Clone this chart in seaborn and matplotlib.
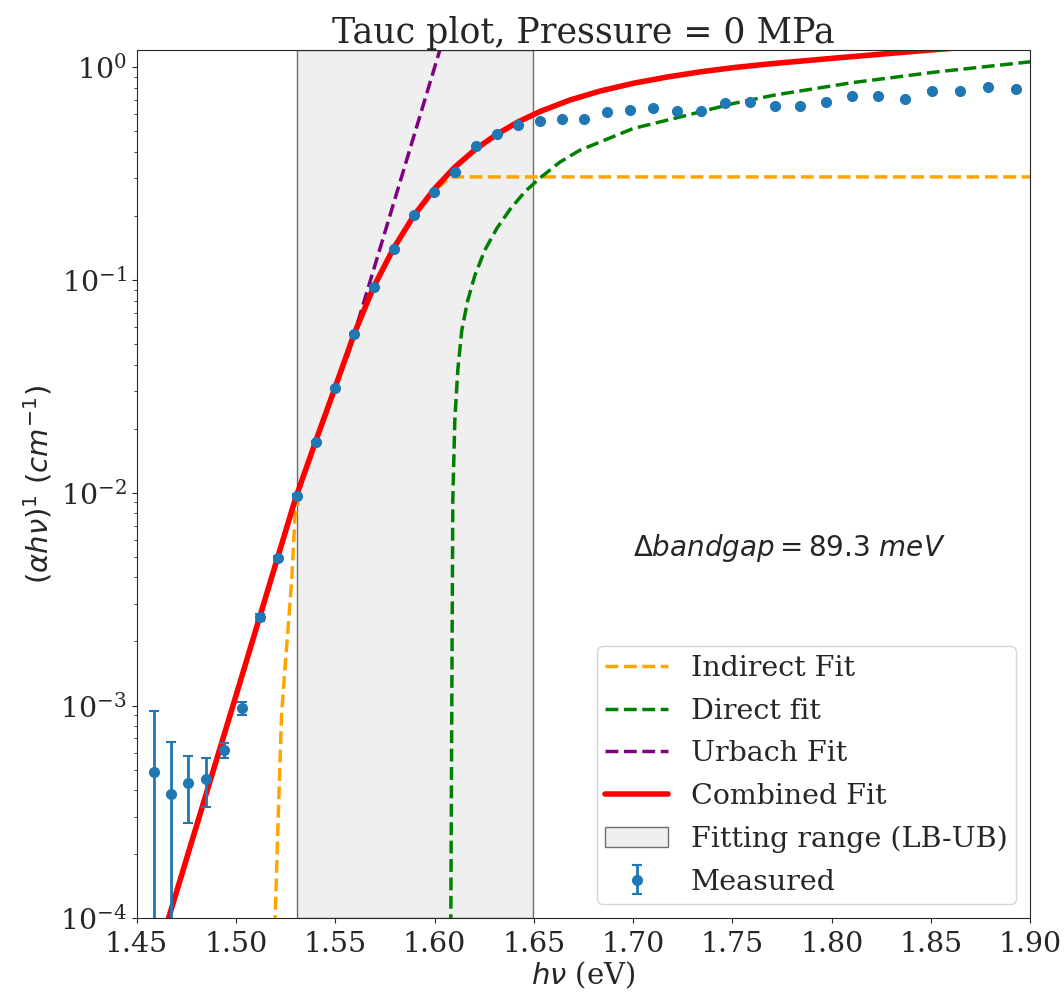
import matplotlib
matplotlib.use("Agg")
import matplotlib.pyplot as plt
import seaborn as sns
import pandas as pd


# Plain white axes with outward ticks, serif text like the original figure
sns.set_style("ticks")
plt.rcParams["font.family"] = ["DejaVu Serif"]
plt.rcParams["mathtext.fontset"] = "dejavusans"


# Measured points (photon energy in eV, absorption value, error)
meas_e = [1.4586, 1.4673, 1.4760, 1.4848, 1.4938, 1.5029, 1.5120, 1.5213,
          1.5307, 1.5402, 1.5498, 1.5596, 1.5694, 1.5794, 1.5895, 1.5998,
          1.6102, 1.6207, 1.6314, 1.6422, 1.6531, 1.6642, 1.6755, 1.6869,
          1.6984, 1.7101, 1.7220, 1.7340, 1.7462, 1.7586, 1.7712, 1.7840,
          1.7969, 1.8100, 1.8233, 1.8368, 1.8505, 1.8644, 1.8785, 1.8929]
meas_v = [4.85e-4, 3.85e-4, 4.3e-4, 4.5e-4, 6.15e-4, 9.7e-4, 2.6e-3, 4.95e-3,
          9.7e-3, 0.0174, 0.0309, 0.0560, 0.0925, 0.140, 0.202, 0.260,
          0.320, 0.425, 0.485, 0.537, 0.560, 0.571, 0.571, 0.614,
          0.632, 0.641, 0.621, 0.621, 0.677, 0.689, 0.659, 0.659,
          0.689, 0.730, 0.730, 0.709, 0.777, 0.777, 0.805, 0.790]
meas_err = [4.6e-4, 2.9e-4, 1.5e-4, 1.15e-4, 0.5e-4, 0.7e-4, 1.0e-4, 1.0e-4,
            2e-4, 2e-4, 2e-4, 2e-4, 2e-4, 2e-4, 2e-4, 2e-4,
            2e-4, 2e-4, 2e-4, 2e-4, 2e-4, 2e-4, 2e-4, 2e-4,
            2e-4, 2e-4, 2e-4, 2e-4, 2e-4, 2e-4, 2e-4, 2e-4,
            2e-4, 2e-4, 2e-4, 2e-4, 2e-4, 2e-4, 2e-4, 2e-4]

# Fit curves
indirect_e = [1.5196, 1.5213, 1.5230, 1.5281, 1.5297, 1.5330, 1.5402, 1.5498,
              1.5596, 1.5694, 1.5794, 1.5895, 1.5998, 1.6080, 1.6300, 1.7000,
              1.8000, 1.9000]
indirect_v = [9.0e-5, 3.0e-4, 9.2e-4, 3.9e-3, 7.7e-3, 0.0112, 0.0175, 0.031,
              0.056, 0.092, 0.139, 0.200, 0.262, 0.305, 0.305, 0.305,
              0.305, 0.305]

direct_e = [1.6080, 1.6082, 1.6087, 1.6092, 1.6102, 1.6117, 1.6137, 1.6167,
            1.6203, 1.6253, 1.6314, 1.6379, 1.6455, 1.6530, 1.6631, 1.6731,
            1.7000, 1.7251, 1.7503, 1.7713, 1.8107, 1.8527, 1.9000]
direct_v = [5e-5, 1.0e-4, 1.05e-3, 9.3e-3, 0.0218, 0.0376, 0.0579, 0.080,
            0.105, 0.138, 0.175, 0.214, 0.260, 0.301, 0.358, 0.407,
            0.515, 0.588, 0.675, 0.740, 0.847, 0.950, 1.060]

urbach_e = [1.556, 1.5666, 1.585, 1.6035]
urbach_v = [0.0432, 0.092, 0.342, 1.277]

combined_e = [1.4600, 1.4800, 1.5000, 1.5200, 1.5300, 1.5402, 1.5498, 1.5596,
              1.5694, 1.5794, 1.5895, 1.5998, 1.6102, 1.6207, 1.6314, 1.6422,
              1.6531, 1.6680, 1.6832, 1.7000, 1.7168, 1.7335, 1.7503, 1.7688,
              1.8023, 1.8359, 1.8500, 1.9000]
combined_v = [6.5e-5, 2.69e-4, 1.11e-3, 4.62e-3, 9.4e-3, 0.0175, 0.031, 0.056,
              0.093, 0.141, 0.200, 0.267, 0.339, 0.412, 0.484, 0.554,
              0.619, 0.700, 0.772, 0.840, 0.898, 0.950, 0.995, 1.037,
              1.105, 1.175, 1.205, 1.310]

# Fitting range bounds (eV)
lb, ub = 1.5307, 1.6497

xticks = [1.45, 1.50, 1.55, 1.60, 1.65, 1.70, 1.75, 1.80, 1.85, 1.90]


fig, ax = plt.subplots(figsize=(10.64, 9.99), dpi=100)
fig.subplots_adjust(left=0.1284, right=0.9684, bottom=0.0808, top=0.9496)

span = ax.axvspan(lb, ub, facecolor=(0.5, 0.5, 0.5, 0.12),
                  edgecolor=(0.2, 0.2, 0.2, 0.7), lw=1)

sns.lineplot(x=indirect_e, y=indirect_v, ax=ax, color="orange", lw=2.5,
             linestyle="--", sort=False, estimator=None)
sns.lineplot(x=direct_e, y=direct_v, ax=ax, color="green", lw=2.5,
             linestyle="--", sort=False, estimator=None)
sns.lineplot(x=urbach_e, y=urbach_v, ax=ax, color="purple", lw=2.5,
             linestyle="--", sort=False, estimator=None)
sns.lineplot(x=combined_e, y=combined_v, ax=ax, color="red", lw=4,
             sort=False, estimator=None)
line_handles = list(ax.lines[:4])

meas = ax.errorbar(meas_e, meas_v, yerr=meas_err, fmt="o", color="#1f77b4",
                   ms=7, elinewidth=2, capsize=3.5, capthick=1.5, zorder=5)

ax.set_yscale("log")
ax.set_xlim(1.45, 1.90)
ax.set_ylim(1e-4, 1.2)
ax.set_xticks(xticks)
ax.set_xticklabels([f"{t:.2f}" for t in xticks])
ax.tick_params(labelsize=20.5)
ax.tick_params(axis="x", pad=6)

ax.text(1.70, 0.0055, r"$\Delta bandgap = 89.3\ meV$", fontsize=20,
        va="center")

ax.set_title("Tauc plot, Pressure = 0 MPa", fontsize=25, pad=4)
ax.set_xlabel(r"$h\nu$ (eV)", fontsize=21, labelpad=1)
ax.set_ylabel(r"$(\alpha h\nu)^1\ (cm^{-1})$", fontsize=21)

handles = line_handles + [span, meas]
labels = ["Indirect Fit", "Direct fit", "Urbach Fit", "Combined Fit",
          "Fitting range (LB-UB)", "Measured"]
ax.legend(handles, labels, loc="lower right", fontsize=20.5,
          labelspacing=0.55, handlelength=2.2, borderpad=0.3)

fig.savefig("out.png", dpi=100)
plt.close(fig)
